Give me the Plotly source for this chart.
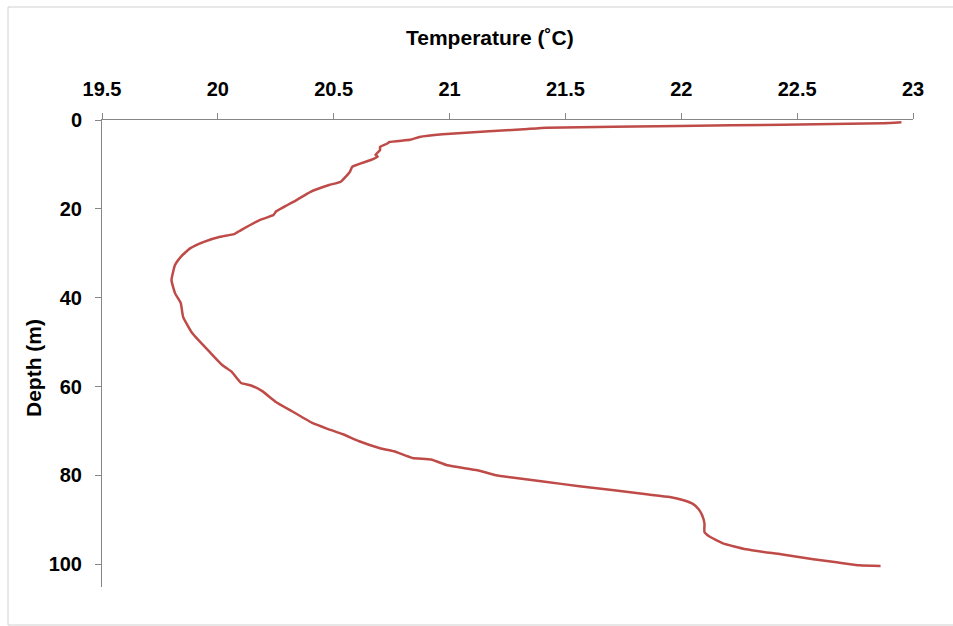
import plotly.graph_objects as go

temperature_c = [22.95, 22.87, 22.44, 21.99, 21.42, 21.32, 21.17, 20.97, 20.87, 20.83,
                 20.74, 20.73, 20.70, 20.70, 20.68, 20.69, 20.66, 20.58, 20.57, 20.53,
                 20.48, 20.40, 20.34, 20.25, 20.24, 20.18, 20.10, 20.07, 20.01, 19.94,
                 19.88, 19.84, 19.815, 19.80, 19.815, 19.84, 19.85, 19.89, 19.97, 20.02,
                 20.06, 20.10, 20.14, 20.19, 20.25, 20.32, 20.41, 20.47, 20.54, 20.61,
                 20.70, 20.76, 20.84, 20.92, 20.99, 21.12, 21.20, 21.27, 21.42, 21.56,
                 21.71, 21.85, 21.95, 22.01, 22.05, 22.075, 22.09, 22.10, 22.10, 22.12,
                 22.18, 22.28, 22.43, 22.57, 22.67, 22.77, 22.86]
depth_m = [0.52, 0.74, 1.06, 1.35, 1.73, 2.09, 2.55, 3.22, 3.83, 4.44,
           4.95, 5.34, 6.08, 6.76, 7.88, 8.27, 9.01, 10.52, 11.64, 13.9,
           14.64, 16.15, 18.02, 20.65, 21.4, 22.52, 24.77, 25.68, 26.28, 27.41,
           28.90, 30.79, 32.66, 36.04, 38.96, 41.22, 44.3, 48.0, 52.5, 55.2,
           56.7, 59.2, 59.7, 60.97, 63.45, 65.54, 68.24, 69.44, 70.72, 72.3,
           73.87, 74.55, 76.06, 76.42, 77.7, 78.83, 79.95, 80.47, 81.46, 82.43,
           83.33, 84.23, 84.84, 85.59, 86.4, 87.6, 88.96, 90.77, 92.73, 93.69,
           95.27, 96.62, 97.75, 98.87, 99.55, 100.23, 100.38]

x_ticks = [19.5, 20, 20.5, 21, 21.5, 22, 22.5, 23]
x_tick_labels = ["19.5", "20", "20.5", "21", "21.5", "22", "22.5", "23"]
y_ticks = [0, 20, 40, 60, 80, 100]
y_tick_labels = ["0", "20", "40", "60", "80", "100"]

FONT = "Liberation Sans, Arial, sans-serif"
AXIS_COLOR = "#868686"

fig = go.Figure()
fig.add_trace(go.Scatter(
    x=temperature_c, y=depth_m, mode="lines",
    line=dict(color="#BE4B48", width=2.5, shape="spline", smoothing=0.4),
    showlegend=False, hoverinfo="x+y",
))

fig.update_layout(
    width=953, height=626,
    margin=dict(l=102, r=40, t=120, b=39),
    paper_bgcolor="white", plot_bgcolor="white",
    font=dict(family=FONT, size=20, color="black"),
    xaxis=dict(
        side="top", range=[19.5, 23], tickvals=x_ticks, ticktext=x_tick_labels,
        showgrid=False, zeroline=False, showline=True, linecolor=AXIS_COLOR, linewidth=1,
        ticks="outside", ticklen=6, tickcolor=AXIS_COLOR, tickwidth=1,
        tickfont=dict(family=FONT, size=20, color="black", weight="bold"),
        ticklabelstandoff=9,
    ),
    yaxis=dict(
        range=[105.1, 0], tickvals=y_ticks, ticktext=y_tick_labels,
        showgrid=False, zeroline=False, showline=True, linecolor=AXIS_COLOR, linewidth=1,
        ticks="outside", ticklen=6, tickcolor=AXIS_COLOR, tickwidth=1,
        tickfont=dict(family=FONT, size=20, color="black", weight="bold"),
        ticklabelstandoff=9,
    ),
    annotations=[
        dict(text="<b>Temperature (˚C)</b>", xref="paper", yref="paper",
             x=(490 - 102) / 811, y=1 + (120 - 37) / 467, xanchor="center", yanchor="middle",
             showarrow=False, font=dict(family=FONT, size=21, color="black")),
        dict(text="<b>Depth (m)</b>", xref="paper", yref="paper",
             x=(33 - 102) / 811, y=1 - (368 - 120) / 467, xanchor="center", yanchor="middle",
             textangle=-90, showarrow=False, font=dict(family=FONT, size=21, color="black")),
    ],
    shapes=[
        dict(type="rect", xref="paper", yref="paper",
             x0=(8 - 102) / 811, x1=(960 - 102) / 811,
             y0=-(625 - 587) / 467, y1=1 + (120 - 7) / 467,
             line=dict(color="#D0D0D0", width=1), fillcolor="rgba(0,0,0,0)", layer="below"),
    ],
)

fig.write_html("out.html")
